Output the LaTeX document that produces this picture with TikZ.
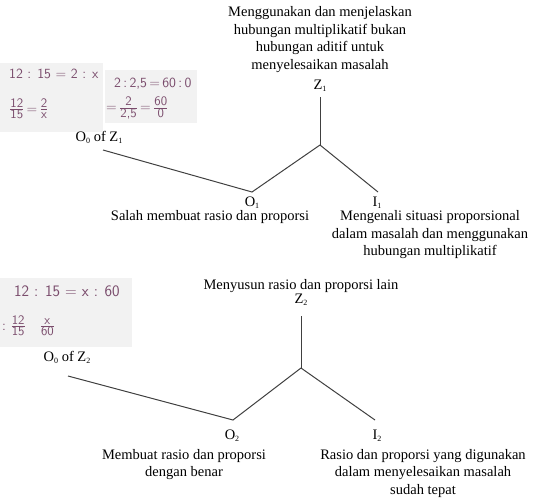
\documentclass[tikz,border=0pt]{standalone}
\usepackage{fontspec}
\setmainfont{Liberation Serif}
\newcommand{\lsub}[1]{\raisebox{-0.3ex}{\fontsize{8}{8}\selectfont #1}}
\newcommand{\hwsmall}{\fontsize{13}{13}\selectfont}
\newcommand{\hwfrac}[2]{$\frac{\hbox{\hwsmall #1}}{\hbox{\hwsmall #2}}$}
\definecolor{ink}{RGB}{122,76,108}
\begin{document}
\begin{tikzpicture}[x=1pt,y=-1pt,
  txt/.style={font=\fontsize{14.5}{17.5}\selectfont, inner sep=0pt, align=center, anchor=north},
  lbl/.style={font=\fontsize{14.5}{17.5}\selectfont, inner sep=0pt},
  br/.style={line width=1pt, draw=black!75},
  hwbox/.style={fill=black!5, draw=none},
  hw/.style={text=ink, font=\sffamily\fontsize{14}{16}\selectfont, inner sep=0pt, anchor=west}]
\useasboundingbox (0,0) rectangle (536,499);

% handwriting boxes, part 1
\fill[hwbox] (0,63) rectangle (103,132);
\fill[hwbox] (105,70) rectangle (197,123);
\node[hw] (hwa1) at (9,74) {12 : 15 = 2 : x};
\node[hw] (hwa2) at (9,109) {\hwfrac{12}{15}\,=\,\hwfrac{2}{x}};
\node[hw] (hwb1) at (114,84) {2\,:\,2,5\,=\,60\,:\,0};
\node[hw] (hwb2) at (106,108) {=\,\hwfrac{2}{2,5}\,=\,\hwfrac{60}{0}};

% part 1 tree
\node[txt] (z1d) at (320,6.5) {Menggunakan dan menjelaskan\\hubungan multiplikatif bukan\\hubungan aditif untuk\\menyelesaikan masalah};
\node[lbl] (z1) at (320,86) {Z\lsub{1}};
\node[lbl] (o0z1) at (99,137) {O\lsub{0} of Z\lsub{1}};
\node[lbl] (o1) at (252,203) {O\lsub{1}};
\node[lbl] (i1) at (377,203) {I\lsub{1}};
\node[txt] (o1d) at (210,210.5) {Salah membuat rasio dan proporsi};
\node[txt] (i1d) at (430,210.5) {Mengenali situasi proporsional\\dalam masalah dan menggunakan\\hubungan multiplikatif};
\coordinate (z1top) at (320,97);
\coordinate (j1) at (320,145);
\coordinate (o1e) at (252,192);
\coordinate (i1e) at (378,192);
\coordinate (o0z1e) at (103,150);
\draw[br] (z1top) -- (j1);
\draw[br] (j1) -- (o1e) -- (o0z1e);
\draw[br] (j1) -- (i1e);

% handwriting box, part 2
\fill[hwbox] (0,278) rectangle (132,347);
\node[hw, font=\sffamily\fontsize{16}{18}\selectfont] (hwc1) at (14,291) {12 : 15 = x : 60};
\node[hw] (hwc2) at (2,326) {:\,\,\hwfrac{12}{15}\quad\hwfrac{x}{60}};

% part 2 tree
\node[txt] (z2d) at (301,279.5) {Menyusun rasio dan proporsi lain};
\node[lbl] (z2) at (301,300) {Z\lsub{2}};
\node[lbl] (o0z2) at (67,357) {O\lsub{0} of Z\lsub{2}};
\node[lbl] (o2) at (232,436) {O\lsub{2}};
\node[lbl] (i2) at (377,436) {I\lsub{2}};
\node[txt] (o2d) at (184,449) {Membuat rasio dan proporsi\\dengan benar};
\node[txt] (i2d) at (423,449) {Rasio dan proporsi yang digunakan\\dalam menyelesaikan masalah\\sudah tepat};
\coordinate (z2top) at (301,316);
\coordinate (j2) at (301,368);
\coordinate (o2e) at (233,420);
\coordinate (i2e) at (375,420);
\coordinate (o0z2e) at (68,376);
\draw[br] (z2top) -- (j2);
\draw[br] (j2) -- (o2e) -- (o0z2e);
\draw[br] (j2) -- (i2e);
\end{tikzpicture}
\end{document}
